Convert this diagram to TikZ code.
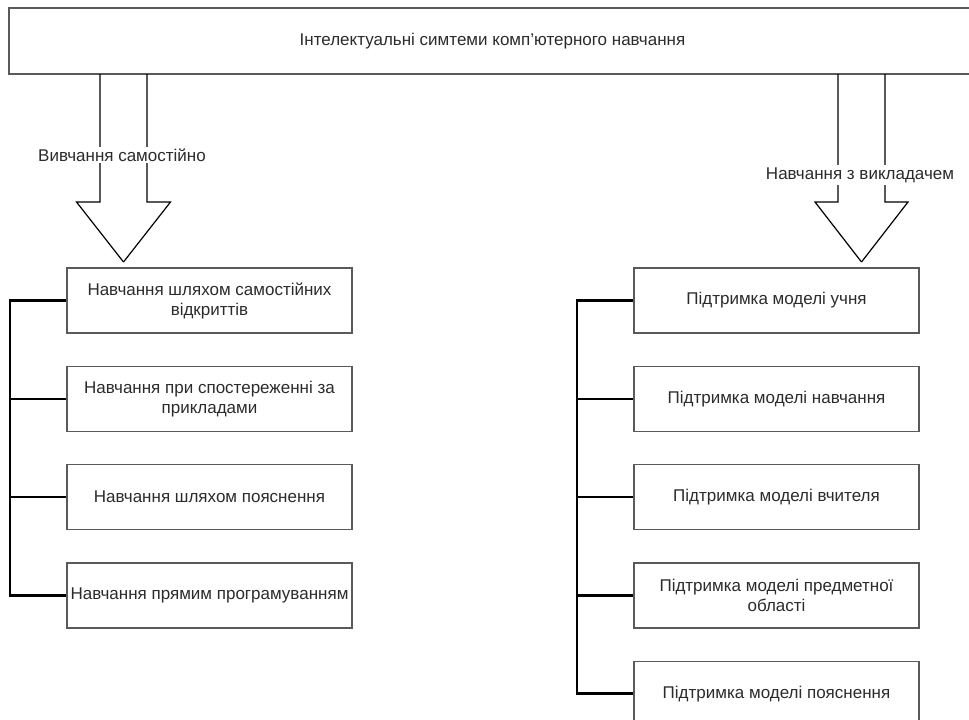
\documentclass[tikz,border=0pt]{standalone}
\usepackage{fontspec}
\setmainfont{Liberation Sans}
\usetikzlibrary{positioning}
\definecolor{boxgray}{HTML}{5A5A5A}
\definecolor{inktext}{HTML}{2B2B2B}

\begin{document}
\begin{tikzpicture}[
  x=1pt, y=-1pt,
  every node/.style={font=\fontsize{17}{20}\selectfont, text=inktext},
  topbox/.style={
    rectangle, draw=boxgray, line width=1.3pt,
    minimum width=967pt, minimum height=66pt
  },
  item/.style={
    rectangle, draw=boxgray, line width=1.3pt,
    minimum width=285pt, minimum height=65pt,
    align=center, inner xsep=2pt
  },
  bus/.style={line width=2.5pt, black},
  bigarrow/.style={draw=black, line width=1.2pt, line join=miter},
  tag/.style={fill=white, inner sep=2pt}
]
  \useasboundingbox (0,0) rectangle (969,720);

  \node[topbox] (title) at (492.5,41) {Інтелектуальні симтеми комп'ютерного навчання};

  % left branch
  \node[item] (lbox1) at (209.5,300.5) {Навчання шляхом самостійних\\відкриттів};
  \node[item, below=32pt of lbox1] (lbox2) {Навчання при спостереженні за\\прикладами};
  \node[item, below=32pt of lbox2] (lbox3) {Навчання шляхом пояснення};
  \node[item, below=32pt of lbox3] (lbox4) {Навчання прямим програмуванням};

  % right branch
  \node[item] (rbox1) at (776.5,300.5) {Підтримка моделі учня};
  \node[item, below=32pt of rbox1] (rbox2) {Підтримка моделі навчання};
  \node[item, below=32pt of rbox2] (rbox3) {Підтримка моделі вчителя};
  \node[item, below=32pt of rbox3] (rbox4) {Підтримка моделі предметної\\області};
  \node[item, below=32pt of rbox4] (rbox5) {Підтримка моделі пояснення};

  % block arrows
  \coordinate (ltip) at (123.5,262);
  \coordinate (rtip) at (861.5,262);
  \foreach \s in {-1,1} {
    \draw[bigarrow] (ltip) -- ++(47*\s,-60) -- ++(-23.5*\s,0) -- ++(0,-128);
    \draw[bigarrow] (rtip) -- ++(46.5*\s,-60) -- ++(-23*\s,0) -- ++(0,-128);
  }
  \node[tag] (llabel) at (122,155) {Вивчання самостійно};
  \node[tag] (rlabel) at (860,175) {Навчання з викладачем};

  % buses
  \coordinate (lbus) at (10,0);
  \coordinate (rbus) at (577,0);
  \draw[bus] (lbox1.west) -- (lbox1.west -| lbus) -- (lbox4.west -| lbus) -- (lbox4.west);
  \foreach \n in {2,3}
    \draw[bus] (lbox\n.west -| lbus) -- (lbox\n.west);
  \draw[bus] (rbox1.west) -- (rbox1.west -| rbus) -- (rbox5.west -| rbus) -- (rbox5.west);
  \foreach \n in {2,3,4}
    \draw[bus] (rbox\n.west -| rbus) -- (rbox\n.west);
\end{tikzpicture}
\end{document}
